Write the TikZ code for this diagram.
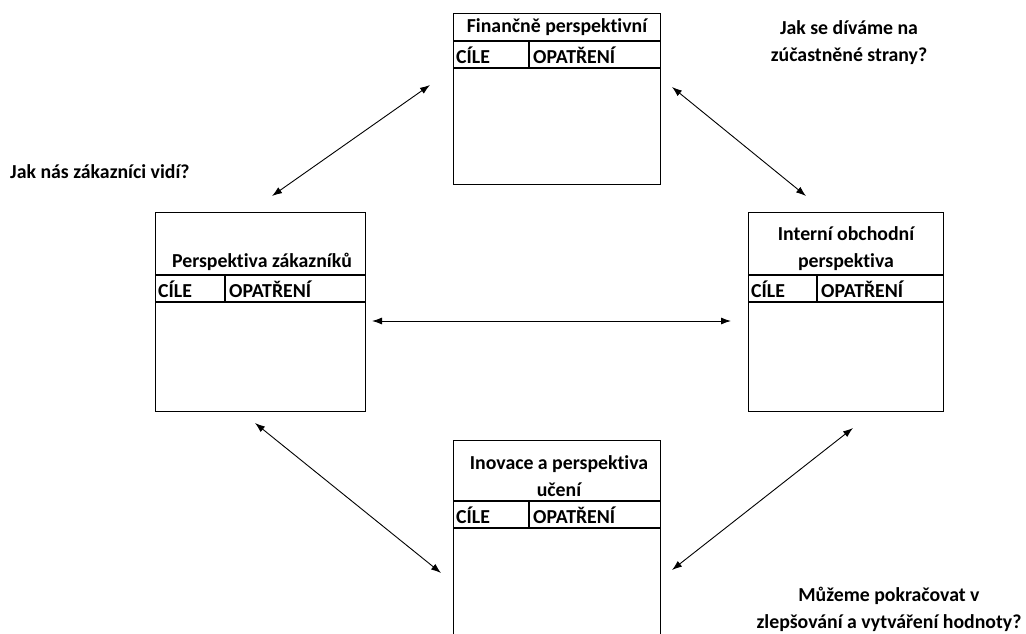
\documentclass[tikz,border=0pt]{standalone}
\usepackage{fontspec}
\setmainfont{Carlito}[Ligatures=NoCommon]
\usetikzlibrary{arrows.meta}
\begin{document}
\begin{tikzpicture}[x=1pt,y=-1pt,
  box/.style={draw,line width=1.3pt,inner sep=0pt,anchor=north west},
  row/.style={line width=1.1pt},
  lbl/.style={font=\bfseries\fontsize{19.8}{27}\selectfont,inner sep=0pt,align=center},
  hdr/.style={font=\bfseries\fontsize{19.8}{22}\selectfont,inner sep=0pt,anchor=west},
  link/.style={line width=0.9pt,{Latex[length=10pt,width=7pt]}-{Latex[length=10pt,width=7pt]}}]
\useasboundingbox (0,0) rectangle (1026,634);
\clip (0,0) rectangle (1026,634);
% boxes
\node[box,minimum width=207pt,minimum height=171pt] (fin) at (453,13) {};
\node[box,minimum width=210pt,minimum height=199pt] (zak) at (155,212) {};
\node[box,minimum width=195pt,minimum height=199pt] (int) at (748,212) {};
\node[box,minimum width=207pt,minimum height=210pt] (ino) at (453,440) {};
% financial
\draw[row] (453,41) -- (660,41) (453,68) -- (660,68) (529,41) -- (529,68);
\node[lbl] (finT) at (557,27) {Finančně perspektivní};
\node[hdr] (finC) at (456,55) {CÍLE};
\node[hdr] (finO) at (533,55) {OPATŘENÍ};
% customers
\draw[row] (155,275) -- (365,275) (155,302) -- (365,302) (225,275) -- (225,302);
\node[lbl] (zakT) at (262,262) {Perspektiva zákazníků};
\node[hdr] (zakC) at (158,289) {CÍLE};
\node[hdr] (zakO) at (229,289) {OPATŘENÍ};
% internal
\draw[row] (748,275) -- (943,275) (748,302) -- (943,302) (817,275) -- (817,302);
\node[lbl] (intT) at (846,249) {Interní obchodní\\perspektiva};
\node[hdr] (intC) at (751,289) {CÍLE};
\node[hdr] (intO) at (821,289) {OPATŘENÍ};
% innovation
\draw[row] (453,501) -- (660,501) (453,528) -- (660,528) (529,501) -- (529,528);
\node[lbl] (inoT) at (559,476) {Inovace a perspektiva\\učení};
\node[hdr] (inoC) at (456,515) {CÍLE};
\node[hdr] (inoO) at (533,515) {OPATŘENÍ};
% questions
\node[lbl,anchor=west] (q1) at (10,172) {Jak nás zákazníci vidí?};
\node[lbl] (q2) at (849,43) {Jak se díváme na\\zúčastněné strany?};
\node[lbl] (q3) at (889,609) {Můžeme pokračovat v\\zlepšování a vytváření hodnoty?};
% arrows
\coordinate (a1) at (272,196); \coordinate (b1) at (430,85);
\coordinate (a2) at (672,87);  \coordinate (b2) at (806,196);
\coordinate (a3) at (372,321); \coordinate (b3) at (731,321);
\coordinate (a4) at (255,423); \coordinate (b4) at (441,573);
\coordinate (a5) at (853,428); \coordinate (b5) at (672,570);
\draw[link] (a1) -- (b1);
\draw[link] (a2) -- (b2);
\draw[link] (a3) -- (b3);
\draw[link] (a4) -- (b4);
\draw[link] (a5) -- (b5);
\end{tikzpicture}
\end{document}
